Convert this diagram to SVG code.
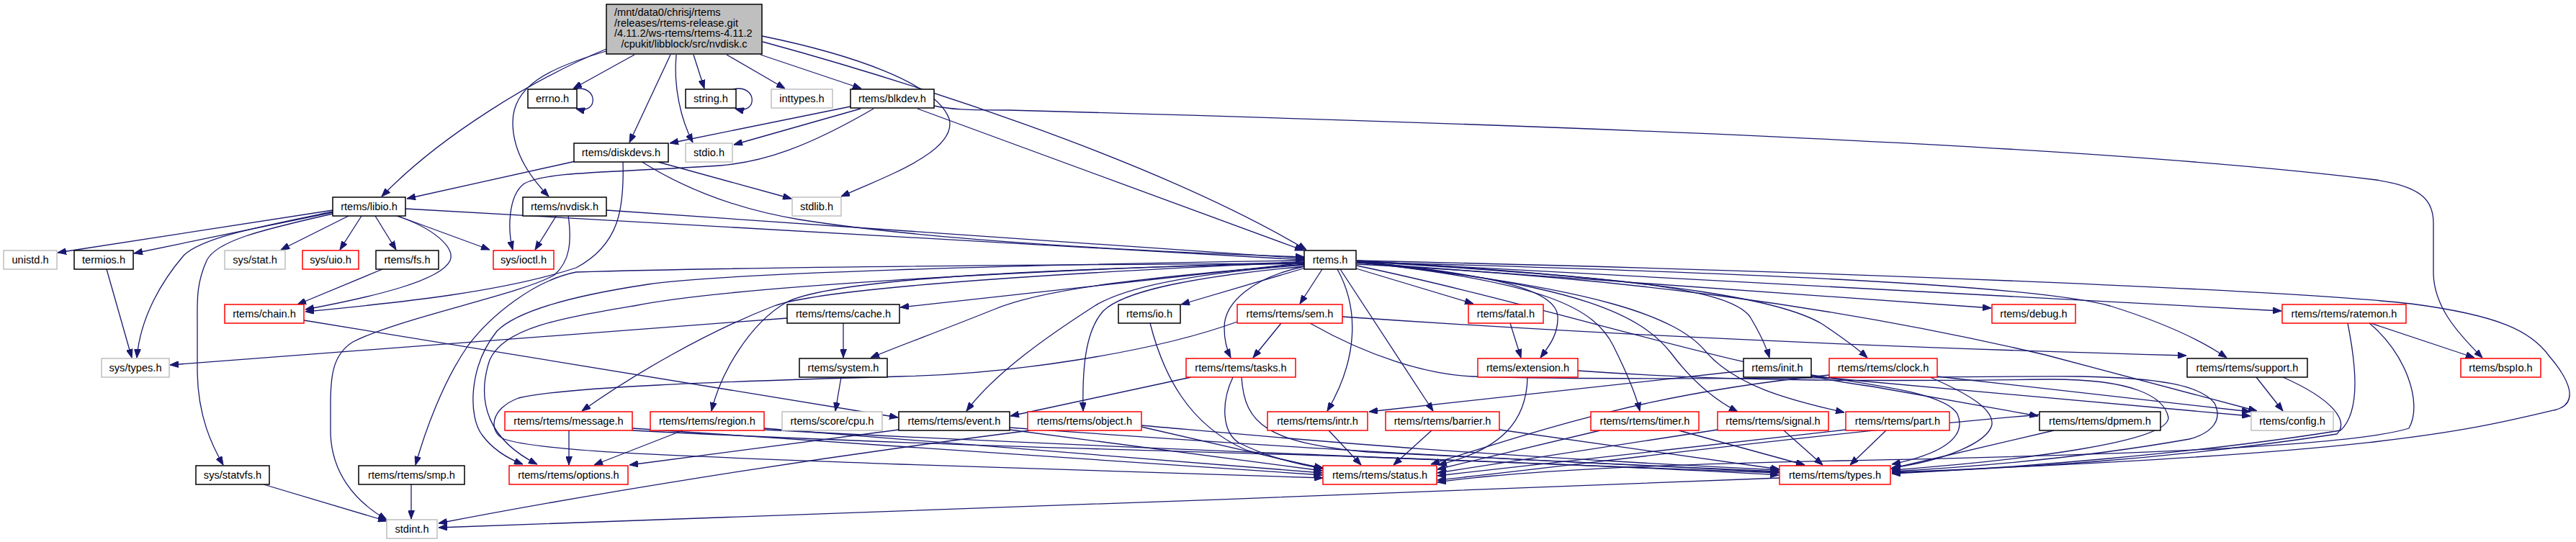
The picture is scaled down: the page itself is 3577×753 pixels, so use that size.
<svg xmlns="http://www.w3.org/2000/svg" width="3577" height="753" viewBox="0 0 3577 753">
<style>
.n rect{fill:#ffffff;stroke-width:1.5}
.b rect{stroke:#000000}
.r rect{stroke:#ff0000}
.g rect{stroke:#bfbfbf}
.m rect{fill:#bfbfbf;stroke:#000000}
text{font-family:"Liberation Sans",Arial,sans-serif;font-size:14.6px;fill:#000000}
.n text{text-anchor:middle}
#edges path{fill:none;stroke:#191970;stroke-width:1.3;marker-end:url(#arr)}
</style>
<defs>
<marker id="arr" viewBox="0 0 12 9" refX="12" refY="4.5" markerWidth="12" markerHeight="9" markerUnits="userSpaceOnUse" orient="auto">
<path d="M0,0 L12,4.5 L0,9 z" fill="#191970" stroke="#191970" stroke-width="1"/>
</marker>
</defs>
<rect x="0" y="0" width="3577" height="753" fill="#ffffff"/>
<g id="edges">
<path id="e-main-libio" d="M842,68 C740,110 610,190 530,273"/>
<path id="e-main-nvdisk" d="M842,71 C760,95 712,120 712,170 C712,215 740,250 762,273"/>
<path id="e-main-errno" d="M881,76 L796,123"/>
<path id="e-errno-self" d="M797,124 C830,116 833,160 800,151"/>
<path id="e-main-diskdevs" d="M931,76 L874,198"/>
<path id="e-main-stdio" d="M939,76 C935,120 945,165 962,198"/>
<path id="e-main-string" d="M963,76 L978,123"/>
<path id="e-string-self" d="M1018,124 C1051,116 1054,160 1021,151"/>
<path id="e-main-inttypes" d="M1009,76 L1090,123"/>
<path id="e-main-blkdev" d="M1056,76 L1196,123"/>
<path id="e-main-stdlib" d="M1058,50 C1180,75 1300,115 1318,165 C1330,210 1230,245 1168,273"/>
<path id="e-main-rtems" d="M1059,58 C1250,110 1600,220 1814,347"/>
<path id="e-blkdev-rtems" d="M1274,151 L1810,348"/>
<path id="e-blkdev-bspio" d="M1297,147 C1320,152 1340,153 1400,153 C2100,172 2900,200 3300,250 C3365,260 3379,280 3379,310 L3379,380 C3380,425 3410,460 3447,497"/>
<path id="e-blkdev-diskdevs" d="M1181,148 L930,199"/>
<path id="e-blkdev-stdio" d="M1195,151 L1019,201"/>
<path id="e-blkdev-ioctl" d="M1213,151 C1120,205 1060,225 1000,230 C850,240 760,238 728,255 C705,272 705,320 712,347"/>
<path id="e-diskdevs-libio" d="M799,224 L565,276"/>
<path id="e-diskdevs-stdlib" d="M910,224 L1099,276"/>
<path id="e-diskdevs-rtems" d="M890,224 C950,262 1020,290 1110,305 C1300,335 1600,350 1811,357"/>
<path id="e-diskdevs-chain" d="M865,224 C867,290 860,340 800,372 C700,405 560,420 424,433"/>
<path id="e-nvdisk-stdint" d="M789,299 C794,335 792,362 770,382 C720,410 560,440 490,475 C463,492 459,520 459,560 L459,603 C461,655 490,695 537,722"/>
<path id="e-nvdisk-ioctl" d="M773,299 L743,347"/>
<path id="e-nvdisk-rtems" d="M842,292 L1811,359"/>
<path id="e-libio-unistd" d="M462,292 L80,351"/>
<path id="e-libio-termios" d="M462,295 L186,352"/>
<path id="e-libio-systypes" d="M462,294 C360,315 280,330 255,355 C225,390 195,440 190,497"/>
<path id="e-libio-statvfs" d="M462,297 C360,320 300,335 287,362 C272,395 274,420 274,450 L274,517 C275,580 295,620 310,646"/>
<path id="e-libio-stat" d="M484,300 L390,347"/>
<path id="e-libio-uio" d="M502,300 L472,347"/>
<path id="e-libio-fs" d="M521,300 L550,347"/>
<path id="e-libio-chain" d="M551,300 C605,318 632,345 625,362 C612,390 520,412 424,430"/>
<path id="e-libio-ioctl" d="M552,300 L680,347"/>
<path id="e-libio-rtems" d="M563,290 L1811,361"/>
<path id="e-termios-systypes" d="M148,374 L183,497"/>
<path id="e-fs-chain" d="M531,374 L413,423"/>
<path id="e-chain-event" d="M422,445 L1247,580"/>
<path id="e-cache-systypes" d="M1093,442 L236,507"/>
<path id="e-cache-system" d="M1171,449 L1171,497"/>
<path id="e-system-cpu" d="M1168,524 L1160,571"/>
<path id="e-rtems-cache" d="M1812,365 L1250,427"/>
<path id="e-rtems-io" d="M1813,372 L1640,423"/>
<path id="e-rtems-sem" d="M1836,374 L1805,422"/>
<path id="e-rtems-fatal" d="M1883,373 L2046,422"/>
<path id="e-rtems-tasks" d="M1812,370 C1740,385 1700,420 1700,455 C1700,475 1704,487 1709,497"/>
<path id="e-rtems-intr" d="M1857,374 C1888,430 1885,500 1843,571"/>
<path id="e-rtems-barrier" d="M1861,374 L1990,571"/>
<path id="e-rtems-extension" d="M1884,363 C2060,380 2162,400 2163,440 C2164,465 2150,482 2139,497"/>
<path id="e-rtems-timer" d="M1884,364 C2150,392 2215,430 2240,480 C2260,520 2272,550 2277,571"/>
<path id="e-rtems-signal" d="M1884,364 C2200,395 2280,440 2320,490 C2350,530 2380,555 2413,572"/>
<path id="e-rtems-part" d="M1884,364 C2220,400 2330,440 2370,490 C2410,535 2480,555 2561,573"/>
<path id="e-rtems-init" d="M1884,363 C2250,385 2400,400 2430,440 C2445,465 2452,480 2457,497"/>
<path id="e-rtems-clock" d="M1884,362 C2350,390 2480,420 2530,450 C2560,470 2580,485 2593,497"/>
<path id="e-rtems-debug" d="M1884,365 L2765,428"/>
<path id="e-rtems-ratemon" d="M1884,363 L3168,432"/>
<path id="e-rtems-support" d="M1884,364 C2400,378 2820,395 2930,425 C3010,450 3060,475 3092,497"/>
<path id="e-rtems-config" d="M1884,367 C2250,385 2550,425 2840,493 L3134,571"/>
<path id="e-rtems-dpmem" d="M1884,369 C2150,425 2400,510 2600,537 L2830,578"/>
<path id="e-rtems-types" d="M1884,362 C2600,378 3200,405 3348,422 C3470,438 3515,460 3540,495 C3570,530 3580,560 3550,569 C3420,600 3300,630 2627,656"/>
<path id="e-rtems-system" d="M1812,367 C1600,385 1450,400 1380,430 C1300,462 1250,480 1209,497"/>
<path id="e-rtems-message" d="M1811,364 C1500,378 1150,398 1075,425 C980,462 880,520 808,571"/>
<path id="e-rtems-region" d="M1811,366 C1400,374 1150,390 1092,420 C1040,450 1000,520 988,571"/>
<path id="e-rtems-event" d="M1812,368 C1650,380 1560,400 1520,425 C1450,470 1380,520 1342,571"/>
<path id="e-rtems-object" d="M1812,370 C1650,385 1560,405 1532,432 C1505,462 1503,520 1504,571"/>
<path id="e-rtems-smp" d="M1811,366 C1400,368 1000,372 800,378 C740,390 680,440 650,480 C615,530 590,600 577,646"/>
<path id="e-rtems-options" d="M1811,362 C1400,368 1000,380 900,395 C800,410 720,430 690,460 C650,510 650,580 670,605 C685,625 705,637 726,645"/>
<path id="e-rtems-options-b" d="M1811,364 C1400,376 1000,400 880,425 C780,442 700,455 680,500 C660,560 680,612 746,645"/>
<path id="e-sem-tasks" d="M1779,449 L1740,497"/>
<path id="e-sem-support" d="M1864,440 C2300,470 2700,485 3036,494"/>
<path id="e-sem-types" d="M1819,449 C1900,495 1980,520 2044,523 C2300,530 2700,522 2887,523 C3000,525 3055,535 3075,560 C3090,590 3060,605 3040,610 C2900,635 2750,648 2627,655"/>
<path id="e-sem-status" d="M1718,447 C1600,490 1400,520 1250,523 C1000,530 780,538 720,553 C680,568 678,600 700,610 C760,630 1000,635 1250,645 L1837,664"/>
<path id="e-tasks-event" d="M1654,524 L1403,578"/>
<path id="e-tasks-status" d="M1712,524 C1695,560 1697,600 1720,615 C1760,635 1800,645 1837,651"/>
<path id="e-tasks-types" d="M1724,524 C1728,590 1760,615 1900,628 L2471,656"/>
<path id="e-io-status" d="M1597,449 C1615,520 1650,590 1730,625 C1780,640 1810,645 1837,650"/>
<path id="e-fatal-extension" d="M2097,449 L2112,497"/>
<path id="e-init-intr" d="M2421,515 L1901,572"/>
<path id="e-init-types" d="M2515,521 C2600,535 2700,545 2718,575 C2733,610 2690,632 2627,645"/>
<path id="e-init-config" d="M2515,523 L3125,578"/>
<path id="e-extension-status" d="M2121,524 C2120,585 2085,625 1997,646"/>
<path id="e-extension-types" d="M2191,515 C2400,530 2600,530 2849,527 C2960,527 3005,550 3011,580 C3012,615 2800,640 2627,653"/>
<path id="e-clock-status" d="M2540,521 C2300,545 2160,590 1987,645"/>
<path id="e-clock-config" d="M2690,523 L3125,572"/>
<path id="e-clock-types" d="M2680,524 C2740,550 2768,570 2766,590 C2760,615 2700,640 2627,650"/>
<path id="e-intr-status" d="M1845,598 L1890,646"/>
<path id="e-barrier-status" d="M1988,598 L1935,646"/>
<path id="e-barrier-types" d="M2082,597 L2471,652"/>
<path id="e-timer-status" d="M2222,598 L1996,652"/>
<path id="e-timer-types" d="M2331,598 L2506,646"/>
<path id="e-signal-status" d="M2385,597 L1996,657"/>
<path id="e-signal-types" d="M2477,598 L2531,646"/>
<path id="e-part-status" d="M2563,597 L1996,661"/>
<path id="e-part-types" d="M2619,598 L2569,646"/>
<path id="e-dpmem-status" d="M2832,576 C2500,605 2200,645 1996,667"/>
<path id="e-dpmem-types" d="M2852,598 L2626,651"/>
<path id="e-support-config" d="M3133,524 L3170,571"/>
<path id="e-support-types" d="M3170,524 C3240,555 3262,585 3245,603 C3000,640 2800,650 2627,657"/>
<path id="e-ratemon-types" d="M3260,449 C3270,500 3280,570 3250,598 C3050,630 2800,650 2627,658"/>
<path id="e-ratemon-bspio" d="M3292,449 L3436,497"/>
<path id="e-ratemon-status" d="M3290,449 C3340,490 3365,560 3345,595 C3250,625 2800,635 2560,640 C2300,645 2100,655 1996,670"/>
<path id="e-message-options" d="M790,598 L790,646"/>
<path id="e-message-status" d="M878,595 L1836,660"/>
<path id="e-message-types" d="M878,598 C1300,620 1700,628 1900,635 C2100,642 2300,650 2470,660"/>
<path id="e-region-status" d="M1061,595 L1836,657"/>
<path id="e-region-types" d="M1061,597 C1500,620 1800,630 1950,637 L2470,657"/>
<path id="e-region-options" d="M948,598 L825,646"/>
<path id="e-event-status" d="M1402,597 L1836,654"/>
<path id="e-event-types" d="M1402,594 C1700,615 1900,630 2470,655"/>
<path id="e-event-options" d="M1248,597 L874,646"/>
<path id="e-object-status" d="M1585,593 L1837,651"/>
<path id="e-object-types" d="M1585,591 C1800,610 2000,630 2470,653"/>
<path id="e-object-stdint" d="M1430,598 C1100,640 800,690 609,727"/>
<path id="e-types-stdint" d="M2471,664 C1900,690 1000,715 609,733"/>
<path id="e-statvfs-stdint" d="M366,673 L537,724"/>
<path id="e-smp-stdint" d="M571,673 L571,721"/>
</g>
<g id="node-main" class="n m"><rect x="842" y="6" width="216" height="69"/>
<text x="853" y="22" style="text-anchor:start">/mnt/data0/chrisj/rtems</text>
<text x="853" y="36.7" style="text-anchor:start">/releases/rtems-release.git</text>
<text x="853" y="51.4" style="text-anchor:start">/4.11.2/ws-rtems/rtems-4.11.2</text>
<text x="950" y="66">/cpukit/libblock/src/nvdisk.c</text></g>
<g id="node-errno" class="n b"><rect x="733" y="124" width="68" height="26"/><text x="767" y="142">errno.h</text></g>
<g id="node-string" class="n b"><rect x="952" y="124" width="70" height="26"/><text x="987" y="142">string.h</text></g>
<g id="node-inttypes" class="n g"><rect x="1071" y="124" width="85" height="26"/><text x="1113.5" y="142">inttypes.h</text></g>
<g id="node-blkdev" class="n b"><rect x="1181" y="124" width="116" height="26"/><text x="1239" y="142">rtems/blkdev.h</text></g>
<g id="node-diskdevs" class="n b"><rect x="797" y="199" width="131" height="26"/><text x="862.5" y="217">rtems/diskdevs.h</text></g>
<g id="node-stdio" class="n g"><rect x="952" y="199" width="65" height="26"/><text x="984.5" y="217">stdio.h</text></g>
<g id="node-libio" class="n b"><rect x="462" y="274" width="101" height="26"/><text x="512.5" y="292">rtems/libio.h</text></g>
<g id="node-nvdisk" class="n b"><rect x="726" y="274" width="116" height="26"/><text x="784" y="292">rtems/nvdisk.h</text></g>
<g id="node-stdlib" class="n g"><rect x="1100" y="274" width="68" height="26"/><text x="1134" y="292">stdlib.h</text></g>
<g id="node-unistd" class="n g"><rect x="5" y="348" width="74" height="26"/><text x="42" y="366">unistd.h</text></g>
<g id="node-termios" class="n b"><rect x="103" y="348" width="82" height="26"/><text x="144" y="366">termios.h</text></g>
<g id="node-sysstat" class="n g"><rect x="312" y="348" width="84" height="26"/><text x="354" y="366">sys/stat.h</text></g>
<g id="node-sysuio" class="n r"><rect x="420" y="348" width="78" height="26"/><text x="459" y="366">sys/uio.h</text></g>
<g id="node-fs" class="n b"><rect x="522" y="348" width="87" height="26"/><text x="565.5" y="366">rtems/fs.h</text></g>
<g id="node-ioctl" class="n r"><rect x="685" y="348" width="84" height="26"/><text x="727" y="366">sys/ioctl.h</text></g>
<g id="node-rtems" class="n b"><rect x="1811" y="348" width="72" height="26"/><text x="1847" y="366">rtems.h</text></g>
<g id="node-chain" class="n r"><rect x="312" y="423" width="110" height="26"/><text x="367" y="441">rtems/chain.h</text></g>
<g id="node-cache" class="n b"><rect x="1093" y="423" width="156" height="26"/><text x="1171" y="441">rtems/rtems/cache.h</text></g>
<g id="node-io" class="n b"><rect x="1553" y="423" width="86" height="26"/><text x="1596" y="441">rtems/io.h</text></g>
<g id="node-sem" class="n r"><rect x="1718" y="423" width="146" height="26"/><text x="1791" y="441">rtems/rtems/sem.h</text></g>
<g id="node-fatal" class="n r"><rect x="2039" y="423" width="104" height="26"/><text x="2091" y="441">rtems/fatal.h</text></g>
<g id="node-debug" class="n r"><rect x="2766" y="423" width="116" height="26"/><text x="2824" y="441">rtems/debug.h</text></g>
<g id="node-ratemon" class="n r"><rect x="3169" y="423" width="172" height="26"/><text x="3255" y="441">rtems/rtems/ratemon.h</text></g>
<g id="node-systypes" class="n g"><rect x="141" y="498" width="94" height="26"/><text x="188" y="516">sys/types.h</text></g>
<g id="node-system" class="n b"><rect x="1110" y="498" width="122" height="26"/><text x="1171" y="516">rtems/system.h</text></g>
<g id="node-tasks" class="n r"><rect x="1647" y="498" width="152" height="26"/><text x="1723" y="516">rtems/rtems/tasks.h</text></g>
<g id="node-extension" class="n r"><rect x="2052" y="498" width="139" height="26"/><text x="2121.5" y="516">rtems/extension.h</text></g>
<g id="node-init" class="n b"><rect x="2421" y="498" width="94" height="26"/><text x="2468" y="516">rtems/init.h</text></g>
<g id="node-clock" class="n r"><rect x="2540" y="498" width="150" height="26"/><text x="2615" y="516">rtems/rtems/clock.h</text></g>
<g id="node-support" class="n b"><rect x="3037" y="498" width="167" height="26"/><text x="3120.5" y="516">rtems/rtems/support.h</text></g>
<g id="node-bspio" class="n r"><rect x="3417" y="498" width="111" height="26"/><text x="3472.5" y="516">rtems/bspIo.h</text></g>
<g id="node-message" class="n r"><rect x="701" y="572" width="177" height="26"/><text x="789.5" y="590">rtems/rtems/message.h</text></g>
<g id="node-region" class="n r"><rect x="903" y="572" width="158" height="26"/><text x="982" y="590">rtems/rtems/region.h</text></g>
<g id="node-cpu" class="n g"><rect x="1086" y="572" width="139" height="26"/><text x="1155.5" y="590">rtems/score/cpu.h</text></g>
<g id="node-event" class="n b"><rect x="1248" y="572" width="154" height="26"/><text x="1325" y="590">rtems/rtems/event.h</text></g>
<g id="node-object" class="n r"><rect x="1427" y="572" width="158" height="26"/><text x="1506" y="590">rtems/rtems/object.h</text></g>
<g id="node-intr" class="n r"><rect x="1760" y="572" width="139" height="26"/><text x="1829.5" y="590">rtems/rtems/intr.h</text></g>
<g id="node-barrier" class="n r"><rect x="1924" y="572" width="158" height="26"/><text x="2003" y="590">rtems/rtems/barrier.h</text></g>
<g id="node-timer" class="n r"><rect x="2209" y="572" width="150" height="26"/><text x="2284" y="590">rtems/rtems/timer.h</text></g>
<g id="node-signal" class="n r"><rect x="2385" y="572" width="154" height="26"/><text x="2462" y="590">rtems/rtems/signal.h</text></g>
<g id="node-part" class="n r"><rect x="2563" y="572" width="144" height="26"/><text x="2635" y="590">rtems/rtems/part.h</text></g>
<g id="node-dpmem" class="n b"><rect x="2832" y="572" width="168" height="26"/><text x="2916" y="590">rtems/rtems/dpmem.h</text></g>
<g id="node-config" class="n g"><rect x="3126" y="572" width="114" height="26"/><text x="3183" y="590">rtems/config.h</text></g>
<g id="node-statvfs" class="n b"><rect x="272" y="647" width="102" height="26"/><text x="323" y="665">sys/statvfs.h</text></g>
<g id="node-smp" class="n b"><rect x="498" y="647" width="147" height="26"/><text x="571.5" y="665">rtems/rtems/smp.h</text></g>
<g id="node-options" class="n r"><rect x="707" y="647" width="165" height="26"/><text x="789.5" y="665">rtems/rtems/options.h</text></g>
<g id="node-status" class="n r"><rect x="1837" y="647" width="158" height="26"/><text x="1916" y="665">rtems/rtems/status.h</text></g>
<g id="node-types" class="n r"><rect x="2471" y="647" width="154" height="26"/><text x="2548" y="665">rtems/rtems/types.h</text></g>
<g id="node-stdint" class="n g"><rect x="537" y="722" width="70" height="26"/><text x="572" y="740">stdint.h</text></g>
</svg>
